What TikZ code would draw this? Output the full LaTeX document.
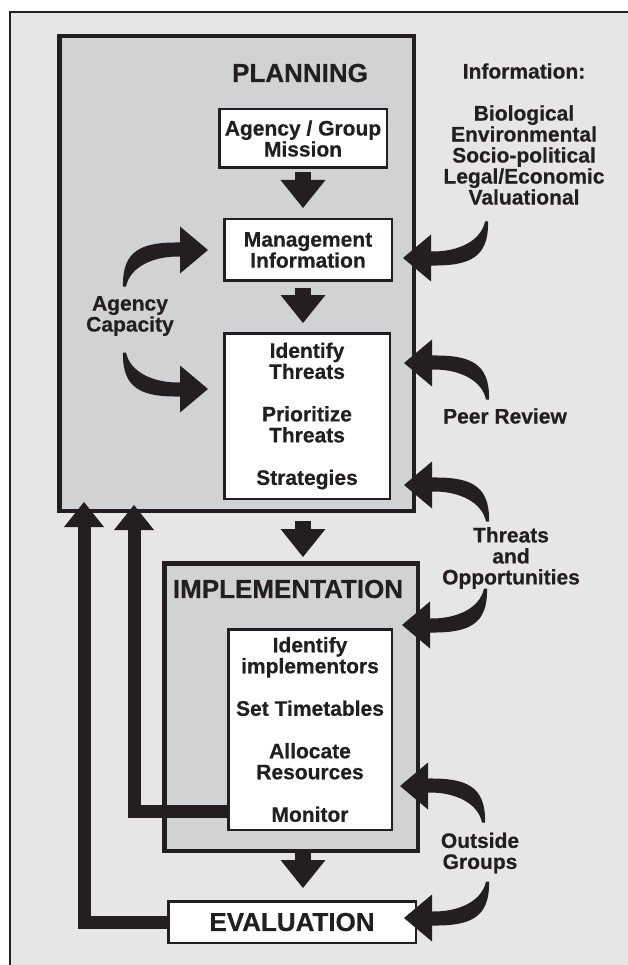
\documentclass[tikz,border=0pt]{standalone}
\usepackage{fontspec}
\setmainfont{Liberation Sans}[BoldFeatures={FakeBold=0.5}]
\usetikzlibrary{arrows.meta,calc}
\definecolor{blk}{HTML}{231F20}
\definecolor{bgg}{HTML}{E6E6E6}
\definecolor{boxg}{HTML}{D1D2D4}
\newcommand\CurvArrow[2]{\begin{scope}[shift={(#1)},#2]
  \fill[blk] (0,0) -- (28,-23.5) -- (28,-6.5) .. controls (55,-6) and (78,-17) .. (82,-36.5)
    -- (85,-36.5) .. controls (86,0) and (66,8) .. (28,7.5) -- (28,23.5) -- cycle;
  \end{scope}}
\begin{document}
\begin{tikzpicture}[x=1pt,y=-1pt,
  txt/.style={font=\fontsize{21}{21}\selectfont\bfseries, align=center, text=blk, inner sep=0pt, outer sep=0pt},
  big/.style={font=\fontsize{26}{26}\selectfont\bfseries, text=blk, inner sep=0pt, outer sep=0pt},
  panel/.style={draw=blk, fill=boxg, line width=4.5pt, inner sep=0pt, outer sep=0pt},
  wbox/.style={txt, draw=blk, fill=white, line width=2.5pt},
  blockarr/.style={draw=blk, line width=16pt, -{Triangle[width=45pt,length=28pt,line width=0pt]}},
  fbarr/.style={draw=blk, line width=13pt, -{Triangle[width=40pt,length=25pt,line width=0pt]}}]
\useasboundingbox (0,0) rectangle (627,965);
% background and frame
\fill[white] (0,0) rectangle (627,965);
\fill[bgg] (10,12) rectangle (628,966);
\draw[blk, line width=2pt] (10,966) -- (10,12) -- (628,12);
% panels
\node[panel, minimum width=354.5pt, minimum height=474.5pt] (planning) at (236.5,273.5) {};
\node[panel, minimum width=253.5pt, minimum height=287.5pt] (impl) at (291,707) {};
% white boxes
\node[wbox, minimum width=167.5pt, minimum height=58.5pt] (mission) at (303,138.5) {Agency / Group\\Mission};
\node[wbox, minimum width=167.5pt, minimum height=61.5pt] (mgmt) at (308,250) {Management\\Information};
\node[wbox, minimum width=165.5pt, minimum height=165.5pt] (threats) at (307,416)
  {Identify\\Threats\\[21.5pt]Prioritize\\Threats\\[21.5pt]Strategies};
\node[wbox, minimum width=163.5pt, minimum height=200.5pt] (implin) at (310,729.5)
  {Identify\\implementors\\[21.5pt]Set Timetables\\[21.5pt]Allocate\\Resources\\[21.5pt]Monitor};
\node[wbox, minimum width=247.5pt, minimum height=41.5pt, font=\fontsize{26}{26}\selectfont\bfseries] (eval) at (292,922) {EVALUATION};
% titles and labels
\node[big] (ptitle) at (300,73) {PLANNING};
\node[big] (ititle) at (288,589) {IMPLEMENTATION};
\node[txt] (infohead) at (524,71) {Information:};
\node[txt] (infolist) at (524,155) {Biological\\Environmental\\Socio-political\\Legal/Economic\\Valuational};
\node[txt] (agency) at (130,316) {Agency\\Capacity};
\node[txt] (peer) at (505,416) {Peer Review};
\node[txt] (threatsopp) at (511,558) {Threats\\and\\Opportunities};
\node[txt] (outside) at (480,853) {Outside\\Groups};
% straight block arrows
\draw[blockarr, shorten <=4.25pt, shorten >=11.25pt] (mission.south) -- (mgmt.north -| mission.south);
\draw[blockarr, shorten <=7.25pt, shorten >=10.25pt] (mgmt.south -| mission.south) -- (threats.north -| mission.south);
\draw[blockarr, shorten <=10.25pt, shorten >=6.25pt] (planning.south -| mission.south) -- (impl.north -| mission.south);
\draw[blockarr, shorten <=2.25pt, shorten >=13.25pt] (impl.south -| mission.south) -- (eval.north -| mission.south);
% feedback arrows
\coordinate (fbtip1) at (84,502);
\coordinate (fbtip2) at (134,505);
\coordinate (monL) at ($(implin.south west)+(0,-18)$);
\draw[fbarr] (eval.west) -| (fbtip1);
\draw[fbarr] (monL) -| (fbtip2);
% curved arrows
\coordinate (infoTip) at (403,258);
\coordinate (peerTip) at (404,363);
\coordinate (thrTip) at (404,485);
\coordinate (oppTip) at (402,625);
\coordinate (outTipA) at (400,786);
\coordinate (outTipB) at (404,918);
\coordinate (agTipA) at (208,250);
\coordinate (agTipB) at (208,389);
\CurvArrow{infoTip}{}
\CurvArrow{peerTip}{yscale=-1}
\CurvArrow{thrTip}{yscale=-1}
\CurvArrow{oppTip}{}
\CurvArrow{outTipA}{yscale=-1}
\CurvArrow{outTipB}{}
\CurvArrow{agTipA}{xscale=-1,yscale=-1}
\CurvArrow{agTipB}{xscale=-1}
\end{tikzpicture}
\end{document}
